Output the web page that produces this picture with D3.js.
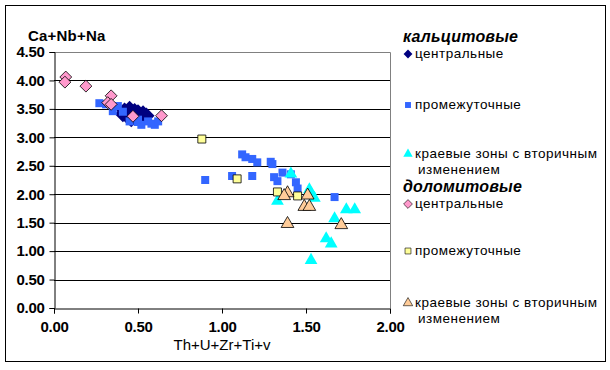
<!DOCTYPE html>
<html>
<head>
<meta charset="utf-8">
<script src="https://cdn.jsdelivr.net/npm/d3@7"></script>
<style>
  body { margin: 0; background: #fff; }
  svg { display: block; font-family: "Liberation Sans", Arial, sans-serif; }
</style>
</head>
<body>
<div id="chart"></div>
<script>
// points are [Th+U+Zr+Ti+v, Ca+Nb+Na]
const calciteCentral = [[0.42, 3.47], [0.45, 3.50], [0.47, 3.40], [0.44, 3.36], [0.50, 3.44], [0.53, 3.42],
  [0.51, 3.36], [0.46, 3.32], [0.41, 3.41], [0.55, 3.38], [0.48, 3.46]];
const calciteMiddle = [[0.27, 3.60], [0.31, 3.58], [0.35, 3.46], [0.38, 3.55], [0.45, 3.28], [0.50, 3.27], [0.52, 3.22],
  [0.56, 3.28], [0.58, 3.24], [0.60, 3.22], [0.62, 3.28], [0.41, 3.45], [0.50, 3.31],
  [0.90, 2.25], [1.06, 2.32], [1.12, 2.70], [1.14, 2.65], [1.18, 2.62], [1.21, 2.56], [1.18, 2.32], [1.29, 2.57],
  [1.30, 2.53], [1.31, 2.30], [1.33, 2.23], [1.36, 2.38], [1.41, 2.35], [1.44, 2.21], [1.45, 2.10], [1.67, 1.95]];
const calciteEdge = [[1.33, 1.88], [1.41, 2.36], [1.52, 2.08], [1.53, 2.01], [1.55, 1.93], [1.67, 1.57], [1.62, 1.22],
  [1.65, 1.13], [1.53, 0.84], [1.74, 1.73], [1.79, 1.73]];
const dolomiteCentral = [[0.07, 4.06], [0.065, 3.97], [0.19, 3.90], [0.34, 3.73], [0.32, 3.61], [0.34, 3.58], [0.47, 3.37], [0.64, 3.38]];
const dolomiteMiddle = [[0.88, 2.97], [1.09, 2.27], [1.33, 2.04], [1.45, 1.97]];
const dolomiteEdge = [[1.39, 2.02], [1.37, 1.97], [1.51, 1.98], [1.49, 1.78], [1.52, 1.78], [1.39, 1.48], [1.71, 1.46]];

const xTicks = [0, 0.5, 1, 1.5, 2];
const yTicks = [0, 0.5, 1, 1.5, 2, 2.5, 3, 3.5, 4, 4.5];
const xTitle = "Th+U+Zr+Ti+v";
const yTitle = "Ca+Nb+Na";

const W = 610, H = 370;
const plot = { left: 54, right: 390, top: 52, bottom: 308 };

const svg = d3.select("#chart").append("svg").attr("width", W).attr("height", H);

svg.append("rect").attr("x", 5.5).attr("y", 5.5).attr("width", 600).attr("height", 356)
  .attr("fill", "#fff").attr("stroke", "#000").attr("stroke-width", 1);

const x = d3.scaleLinear().domain([0, 2]).range([plot.left, plot.right]);
const y = d3.scaleLinear().domain([0, 4.5]).range([plot.bottom, plot.top]);

// gridlines
svg.append("g").selectAll("line").data(yTicks.filter(d => d > 0 && d < 4.5)).join("line")
  .attr("x1", plot.left).attr("x2", plot.right)
  .attr("y1", d => Math.round(y(d)) + 0.5).attr("y2", d => Math.round(y(d)) + 0.5)
  .attr("stroke", "#000");

// plot border (grey)
svg.append("path")
  .attr("d", `M${plot.left},${plot.top + 0.5}H${plot.right + 0.5}V${plot.bottom}`)
  .attr("fill", "none").attr("stroke", "#808080");

const fmt = d3.format(".2f");

const yAxis = svg.append("g").attr("transform", `translate(${plot.left + 0.5},0)`)
  .call(d3.axisLeft(y).tickValues(yTicks).tickFormat(fmt).tickSize(5).tickPadding(5));
const xAxis = svg.append("g").attr("transform", `translate(0,${plot.bottom + 0.5})`)
  .call(d3.axisBottom(x).tickValues(xTicks).tickFormat(fmt).tickSize(5).tickPadding(8));

[xAxis, yAxis].forEach(a => {
  a.select(".domain").attr("stroke", "#000");
  a.selectAll(".tick line").attr("stroke", "#000");
  a.selectAll(".tick text").attr("fill", "#000")
    .style("font-size", "15px").style("font-weight", "bold").style("letter-spacing", "-0.3px");
});

svg.append("text").attr("x", 28).attr("y", 41).text(yTitle)
  .style("font-size", "15px").style("font-weight", "bold").style("letter-spacing", "0.2px");
svg.append("text").attr("x", x(1)).attr("y", 350).attr("text-anchor", "middle").text(xTitle)
  .style("font-size", "15px");

const diamond = d3.symbol().type(d3.symbolDiamond2);
const square = d3.symbol().type(d3.symbolSquare);
const triangle = d3.symbol().type(d3.symbolTriangle);

const series = [
  { data: calciteCentral, sym: diamond, size: 170, fill: "#000080", stroke: "none" },
  { data: calciteMiddle, sym: square, size: 64, fill: "#3366FF", stroke: "none" },
  { data: calciteEdge, sym: triangle, size: 70, fill: "#00FFFF", stroke: "none" },
  { data: dolomiteCentral, sym: diamond, size: 90, fill: "#FF99CC", stroke: "#000" },
  { data: dolomiteMiddle, sym: square, size: 64, fill: "#FFFF99", stroke: "#000" },
  { data: dolomiteEdge, sym: triangle, size: 70, fill: "#FFCC99", stroke: "#000" }
];

series.forEach(s => {
  svg.append("g").selectAll("path").data(s.data).join("path")
    .attr("transform", d => `translate(${x(d[0])},${y(d[1])})`)
    .attr("d", s.sym.size(s.size)())
    .attr("fill", s.fill).attr("stroke", s.stroke).attr("stroke-width", 0.8);
});

// legend
const legendRows = [
  { type: "head", text: "кальцитовые", y: 42 },
  { type: "item", s: 0, text: ["центральные"], y: 58 },
  { type: "item", s: 1, text: ["промежуточные"], y: 109 },
  { type: "item", s: 2, text: ["краевые зоны с вторичным", "изменением"], y: 158 },
  { type: "head", text: "доломитовые", y: 192 },
  { type: "item", s: 3, text: ["центральные"], y: 208 },
  { type: "item", s: 4, text: ["промежуточные"], y: 255 },
  { type: "item", s: 5, text: ["краевые зоны с вторичным", "изменением"], y: 307 }
];

const lg = svg.append("g");
legendRows.forEach(r => {
  if (r.type === "head") {
    lg.append("text").attr("x", 403).attr("y", r.y).text(r.text)
      .style("font-size", "16px").style("font-weight", "bold").style("font-style", "italic")
      .style("letter-spacing", "0.2px");
  } else {
    const s = series[r.s];
    lg.append("path").attr("transform", `translate(408,${r.y - 4})`)
      .attr("d", s.sym.size(r.s === 0 ? 50 : s.size * 0.55)())
      .attr("fill", s.fill).attr("stroke", s.stroke).attr("stroke-width", 0.6);
    r.text.forEach((t, i) => {
      lg.append("text").attr("x", i === 0 ? 415 : 418).attr("y", r.y + i * 16).text(t)
        .style("font-size", "13.5px").style("letter-spacing", "0.5px");
    });
  }
});
</script>
</body>
</html>
